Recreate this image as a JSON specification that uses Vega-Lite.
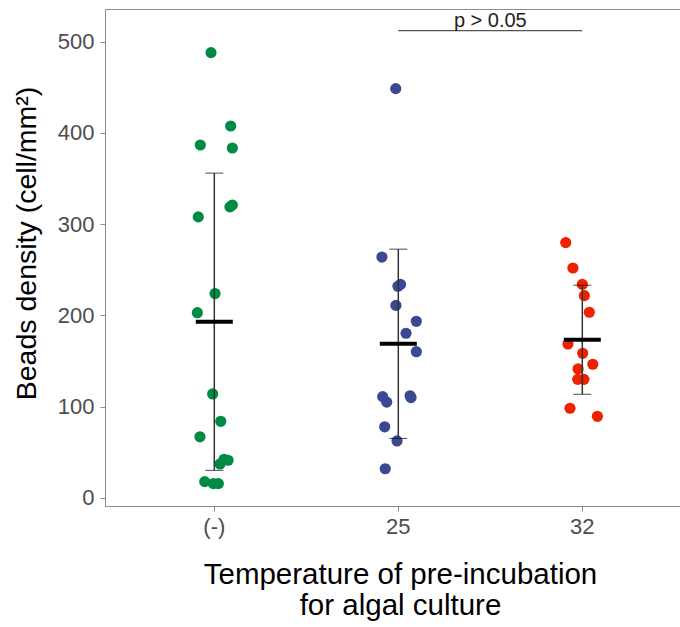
{
  "$schema": "https://vega.github.io/schema/vega-lite/v6.json",
  "width": 576,
  "height": 497,
  "autosize": {"type": "none"},
  "padding": {"left": 105, "top": 9, "right": 0, "bottom": 121},
  "background": "white",
  "config": {
    "font": "Liberation Sans",
    "view": {"stroke": "#8c8c8c", "strokeWidth": 1},
    "axis": {"grid": false}
  },
  "datasets": {
    "beads": [
      {"group": "(-)", "value": 488, "jitter": -0.018},
      {"group": "(-)", "value": 407.6, "jitter": 0.089},
      {"group": "(-)", "value": 386.8, "jitter": -0.076},
      {"group": "(-)", "value": 383.5, "jitter": 0.098},
      {"group": "(-)", "value": 321, "jitter": 0.098},
      {"group": "(-)", "value": 319, "jitter": 0.085},
      {"group": "(-)", "value": 308, "jitter": -0.087},
      {"group": "(-)", "value": 224, "jitter": 0.004},
      {"group": "(-)", "value": 203, "jitter": -0.092},
      {"group": "(-)", "value": 114, "jitter": -0.009},
      {"group": "(-)", "value": 84, "jitter": 0.035},
      {"group": "(-)", "value": 67, "jitter": -0.078},
      {"group": "(-)", "value": 42.4, "jitter": 0.053},
      {"group": "(-)", "value": 41.3, "jitter": 0.075},
      {"group": "(-)", "value": 37.3, "jitter": 0.031},
      {"group": "(-)", "value": 17.9, "jitter": -0.052},
      {"group": "(-)", "value": 15.7, "jitter": -0.005},
      {"group": "(-)", "value": 15.7, "jitter": 0.022},
      {"group": "25", "value": 448.5, "jitter": -0.014},
      {"group": "25", "value": 264, "jitter": -0.089},
      {"group": "25", "value": 234, "jitter": 0.012},
      {"group": "25", "value": 232, "jitter": -0.002},
      {"group": "25", "value": 211, "jitter": -0.013},
      {"group": "25", "value": 193.6, "jitter": 0.098},
      {"group": "25", "value": 180.5, "jitter": 0.042},
      {"group": "25", "value": 160.3, "jitter": 0.098},
      {"group": "25", "value": 111, "jitter": -0.085},
      {"group": "25", "value": 105, "jitter": -0.063},
      {"group": "25", "value": 112, "jitter": 0.064},
      {"group": "25", "value": 110, "jitter": 0.069},
      {"group": "25", "value": 78, "jitter": -0.074},
      {"group": "25", "value": 62.5, "jitter": -0.007},
      {"group": "25", "value": 32, "jitter": -0.071},
      {"group": "32", "value": 279.8, "jitter": -0.09},
      {"group": "32", "value": 252, "jitter": -0.051},
      {"group": "32", "value": 234, "jitter": 0.0},
      {"group": "32", "value": 221.7, "jitter": 0.011},
      {"group": "32", "value": 203.5, "jitter": 0.038},
      {"group": "32", "value": 168.7, "jitter": -0.078},
      {"group": "32", "value": 158.5, "jitter": 0.002},
      {"group": "32", "value": 146.5, "jitter": 0.057},
      {"group": "32", "value": 141.4, "jitter": -0.023},
      {"group": "32", "value": 130, "jitter": -0.025},
      {"group": "32", "value": 130, "jitter": 0.009},
      {"group": "32", "value": 98.3, "jitter": -0.067},
      {"group": "32", "value": 89.5, "jitter": 0.082}
    ],
    "signif": [
      {"group": "25", "group2": "32", "line": 512, "labelY": 516.5, "jitter": 0.5, "label": "p > 0.05"}
    ]
  },
  "encoding": {
    "x": {
      "field": "group", "type": "nominal",
      "scale": {"type": "band", "domain": ["(-)", "25", "32"], "paddingInner": 1, "paddingOuter": 0.5652, "align": 0.5255},
      "axis": {
        "title": ["Temperature of pre-incubation", "for algal culture"],
        "titleFontSize": 29.5, "titleFontWeight": "normal", "titleColor": "black",
        "titleX": 295, "titleY": 77.6, "titleAlign": "center", "titleBaseline": "alphabetic",
        "titleLineHeight": 31,
        "labelFontSize": 22, "labelColor": "#4d4d4d", "labelAngle": 0, "labelPadding": 5,
        "tickSize": 5, "tickColor": "#8c8c8c", "domainColor": "#8c8c8c"
      }
    }
  },
  "layer": [
    {
      "data": {"name": "beads"},
      "mark": {"type": "circle", "size": 125, "opacity": 1},
      "encoding": {
        "xOffset": {"field": "jitter", "type": "quantitative", "scale": {"domain": [-1, 1], "range": [-184, 184]}},
        "y": {
          "field": "value", "type": "quantitative",
          "title": "Beads density (cell/mm²)",
          "scale": {"domain": [-8.8, 535.8], "nice": false, "zero": false},
          "axis": {
            "titleFontSize": 28.5, "titleFontWeight": "normal", "titleColor": "black",
            "titleX": -79, "titleY": 234, "titleAlign": "center", "titleBaseline": "middle", "titleAngle": -90,
            "values": [0, 100, 200, 300, 400, 500],
            "labelFontSize": 22, "labelColor": "#4d4d4d", "labelPadding": 6,
            "tickSize": 5, "tickColor": "#8c8c8c", "domainColor": "#8c8c8c"
          }
        },
        "color": {
          "field": "group", "type": "nominal",
          "scale": {"domain": ["(-)", "25", "32"], "range": ["#008B45", "#3B4992", "#EE2200"]},
          "legend": null
        }
      }
    },
    {
      "data": {"name": "beads"},
      "mark": {
        "type": "errorbar", "extent": "stdev",
        "ticks": {"size": 18, "color": "black", "strokeWidth": 1.5},
        "rule": {"color": "#333333", "strokeWidth": 1.5}
      },
      "encoding": {
        "y": {"field": "value", "type": "quantitative", "title": "Beads density (cell/mm²)"}
      }
    },
    {
      "data": {"name": "beads"},
      "mark": {"type": "tick", "size": 37, "thickness": 4, "color": "black", "orient": "horizontal"},
      "encoding": {
        "y": {"aggregate": "mean", "field": "value", "type": "quantitative", "title": "Beads density (cell/mm²)"}
      }
    },
    {
      "data": {"name": "signif"},
      "mark": {"type": "rule", "color": "#555555", "strokeWidth": 1.2},
      "encoding": {
        "x2": {"field": "group2"},
        "y": {"field": "line", "type": "quantitative", "title": "Beads density (cell/mm²)"}
      }
    },
    {
      "data": {"name": "signif"},
      "mark": {"type": "text", "fontSize": 20, "color": "#222222", "align": "center", "baseline": "alphabetic"},
      "encoding": {
        "xOffset": {"field": "jitter", "type": "quantitative"},
        "y": {"field": "labelY", "type": "quantitative", "title": "Beads density (cell/mm²)"},
        "text": {"field": "label"}
      }
    }
  ]
}
